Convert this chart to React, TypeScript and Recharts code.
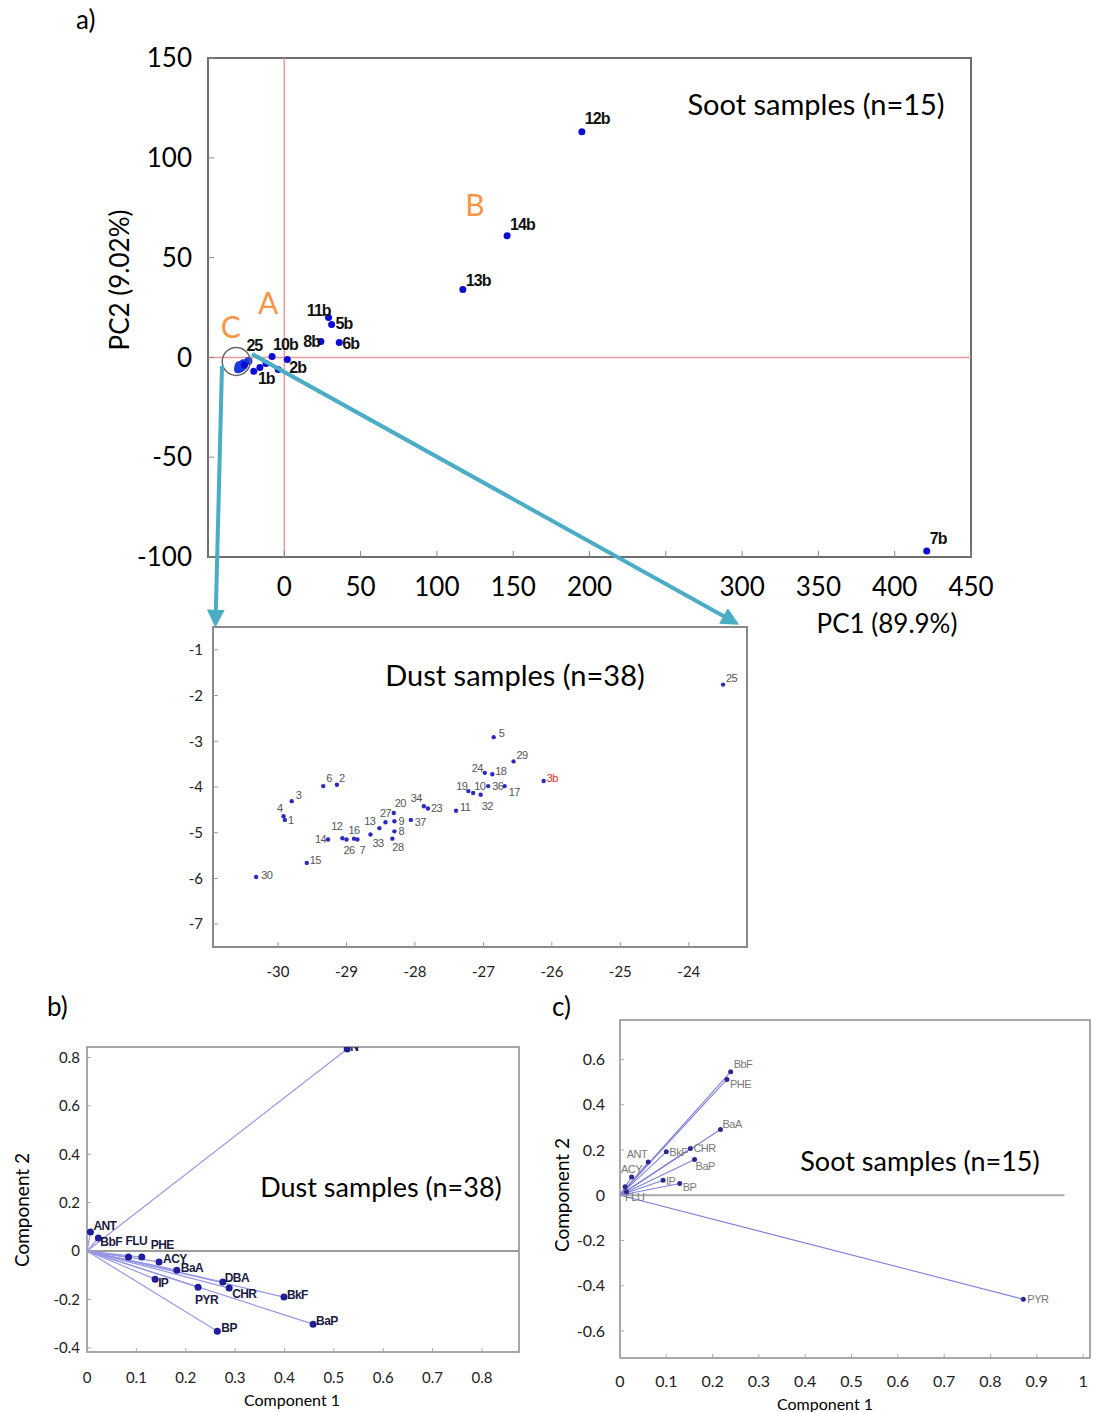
import React from 'react';
import { ScatterChart, Scatter, XAxis, YAxis, ReferenceLine, ReferenceArea, ReferenceDot } from 'recharts';

const FONT = 'Lato, "Open Sans", sans-serif';
const MARK_FONT = '"Liberation Sans", Arial, sans-serif';

// a) PCA scores, soot samples
const sootSamples = [
  { name: '12b', x: 195, y: 113 },
  { name: '14b', x: 146, y: 61 },
  { name: '13b', x: 117, y: 34 },
  { name: '7b', x: 421, y: -97 },
  { name: '11b', x: 29, y: 20 },
  { name: '5b', x: 31, y: 16.5 },
  { name: '8b', x: 24, y: 8 },
  { name: '6b', x: 36, y: 7.5 },
  { name: '10b', x: -8, y: 0.5 },
  { name: '2b', x: 2, y: -1 },
  { name: '1b', x: -16, y: -5 },
  { name: '3b', x: -26.12, y: -3.87 },
  { name: '4b', x: -12, y: -3 },
  { name: '9b', x: -4, y: -6 },
  { name: '15b', x: -20, y: -7 },
];

// dust samples (scores, zoomed window)
const dustSamples = [
  { name: '30', x: -30.32, y: -5.97 },
  { name: '15', x: -29.58, y: -5.66 },
  { name: '14', x: -29.27, y: -5.15 },
  { name: '12', x: -29.06, y: -5.12 },
  { name: '16', x: -28.89, y: -5.13 },
  { name: '26', x: -29.0, y: -5.15 },
  { name: '7', x: -28.84, y: -5.15 },
  { name: '33', x: -28.65, y: -5.04 },
  { name: '13', x: -28.52, y: -4.9 },
  { name: '27', x: -28.43, y: -4.77 },
  { name: '20', x: -28.31, y: -4.57 },
  { name: '9', x: -28.3, y: -4.75 },
  { name: '8', x: -28.3, y: -4.97 },
  { name: '28', x: -28.33, y: -5.13 },
  { name: '37', x: -28.06, y: -4.72 },
  { name: '34', x: -27.87, y: -4.42 },
  { name: '23', x: -27.81, y: -4.47 },
  { name: '11', x: -27.4, y: -4.52 },
  { name: '19', x: -27.22, y: -4.09 },
  { name: '10', x: -27.15, y: -4.13 },
  { name: '32', x: -27.04, y: -4.17 },
  { name: '36', x: -26.93, y: -3.98 },
  { name: '17', x: -26.69, y: -3.98 },
  { name: '24', x: -26.98, y: -3.69 },
  { name: '18', x: -26.87, y: -3.72 },
  { name: '29', x: -26.56, y: -3.44 },
  { name: '5', x: -26.85, y: -2.91 },
  { name: '25', x: -23.5, y: -1.76 },
  { name: '6', x: -29.34, y: -3.98 },
  { name: '2', x: -29.14, y: -3.95 },
  { name: '3', x: -29.8, y: -4.31 },
  { name: '4', x: -29.92, y: -4.64 },
  { name: '1', x: -29.9, y: -4.72 },
];

// b) loadings, dust
const dustLoadings = [
  { name: 'N', x: 0.527, y: 0.835 },
  { name: 'ANT', x: 0.007, y: 0.079 },
  { name: 'BbF', x: 0.023, y: 0.054 },
  { name: 'FLU', x: 0.084, y: -0.025 },
  { name: 'PHE', x: 0.111, y: -0.025 },
  { name: 'ACY', x: 0.146, y: -0.045 },
  { name: 'BaA', x: 0.182, y: -0.079 },
  { name: 'IP', x: 0.138, y: -0.116 },
  { name: 'PYR', x: 0.225, y: -0.149 },
  { name: 'DBA', x: 0.275, y: -0.128 },
  { name: 'CHR', x: 0.288, y: -0.153 },
  { name: 'BkF', x: 0.399, y: -0.19 },
  { name: 'BaP', x: 0.458, y: -0.302 },
  { name: 'BP', x: 0.264, y: -0.331 },
];

// c) loadings, soot
const sootLoadings = [
  { name: 'PYR', x: 0.871, y: -0.46 },
  { name: 'BbF', x: 0.239, y: 0.546 },
  { name: 'PHE', x: 0.231, y: 0.512 },
  { name: 'BaA', x: 0.217, y: 0.291 },
  { name: 'CHR', x: 0.152, y: 0.207 },
  { name: 'BkF', x: 0.1, y: 0.192 },
  { name: 'BaP', x: 0.161, y: 0.158 },
  { name: 'ANT', x: 0.061, y: 0.147 },
  { name: 'IP', x: 0.093, y: 0.066 },
  { name: 'BP', x: 0.129, y: 0.052 },
  { name: 'ACY', x: 0.025, y: 0.081 },
  { name: 'FLU', x: 0.011, y: 0.037 },
  { name: 'DBA', x: 0.014, y: 0.015 },
];

const pc1Ticks = [0, 50, 100, 150, 200, 250, 300, 350, 400, 450];
const pc2Ticks = [-100, -50, 0, 50, 100, 150];
const dustXTicks = [-30, -29, -28, -27, -26, -25, -24];
const dustYTicks = [-7, -6, -5, -4, -3, -2, -1];
const bXTicks = [0, 0.1, 0.2, 0.3, 0.4, 0.5, 0.6, 0.7, 0.8];
const bYTicks = [-0.4, -0.2, 0, 0.2, 0.4, 0.6, 0.8];
const cXTicks = [0, 0.1, 0.2, 0.3, 0.4, 0.5, 0.6, 0.7, 0.8, 0.9, 1];
const cYTicks = [-0.6, -0.4, -0.2, 0, 0.2, 0.4, 0.6];

const groupMarks = [
  { name: 'A', x: -10.5, y: 27.6 },
  { name: 'B', x: 125, y: 77 },
  { name: 'C', x: -35, y: 15.6 },
];
const clusterCircle = { x: -31.5, y: -2 };

const A_X = [-50, 450];
const A_Y = [-100, 150];
const DUST_X = [-30.95, -23.15];
const DUST_Y = [-7.5, -0.5];
const B_X = [0, 0.875];
const B_Y = [-0.417, 0.843];
const C_X = [0, 1.015];
const C_Y = [-0.72, 0.775];

// label offsets [dx, dy, anchor]
type Pos = [number, number, string];
const sootLabelPos: Record<string, Pos> = {
  '12b': [3, -8, 'start'], '14b': [3, -6, 'start'], '13b': [3, -4, 'start'], '7b': [3, -7, 'start'],
  '11b': [2, -1, 'end'], '5b': [4, 5, 'start'], '8b': [-1, 6, 'end'], '6b': [3, 7, 'start'],
  '10b': [1, -6, 'start'], '2b': [2, 14, 'start'], '1b': [-2, 17, 'start'],
};
const dustLabelPos: Record<string, Pos> = {
  '30': [5, 2, 'start'], '15': [3, 1, 'start'], '14': [-2, 3, 'end'], '12': [0, -8, 'end'],
  '16': [0, -5, 'middle'], '26': [-3, 14, 'start'], '7': [2, 14, 'start'], '33': [2, 12, 'start'],
  '13': [-4, -3, 'end'], '27': [0, -5, 'middle'], '20': [1, -6, 'start'], '9': [4, 4, 'start'],
  '8': [4, 4, 'start'], '28': [0, 12, 'start'], '37': [4, 6, 'start'], '34': [-2, -4, 'end'],
  '23': [3, 4, 'start'], '11': [4, 0, 'start'], '19': [-1, -1, 'end'], '10': [1, -3, 'start'],
  '32': [1, 15, 'start'], '36': [4, 4, 'start'], '17': [4, 10, 'start'], '24': [-2, -1, 'end'],
  '18': [3, 1, 'start'], '29': [3, -2, 'start'], '5': [5, 0, 'start'], '3b': [3, 1, 'start'],
  '25': [3, -3, 'start'], '6': [3, -4, 'start'], '2': [2, -3, 'start'], '3': [4, -2, 'start'],
  '4': [-1, -4, 'end'], '1': [3, 4, 'start'],
};
const bLabelPos: Record<string, Pos> = {
  N: [3, 2, 'start'], ANT: [3, -2, 'start'], BbF: [2, 8, 'start'], FLU: [-3, -12, 'start'],
  PHE: [9, -8, 'start'], ACY: [4, 1, 'start'], BaA: [4, 2, 'start'], IP: [3, 8, 'start'],
  PYR: [-3, 17, 'start'], DBA: [2, 0, 'start'], CHR: [3, 10, 'start'], BkF: [3, 2, 'start'],
  BaP: [3, 1, 'start'], BP: [4, 1, 'start'],
};
const cLabelPos: Record<string, Pos> = {
  PYR: [4, 4, 'start'], BbF: [3, -4, 'start'], PHE: [3, 9, 'start'], BaA: [2, -1, 'start'],
  CHR: [3, 4, 'start'], BkF: [3, 4, 'start'], BaP: [1, 11, 'start'], ANT: [-1, -4, 'end'],
  IP: [3, 5, 'start'], BP: [3, 8, 'start'], ACY: [0, -4, 'middle'], FLU: [0, 14, 'start'],
};

const labelled = (posMap: Record<string, Pos>, r: number, fill: string, text: any, textFill?: (n: string) => string) => (p: any) => {
  const pos = posMap[p.payload.name];
  return (
    <g>
      <circle cx={p.cx} cy={p.cy} r={r} fill={fill} />
      {pos && (
        <text x={p.cx + pos[0]} y={p.cy + pos[1]} textAnchor={pos[2]} fill={textFill ? textFill(p.payload.name) : text.fill}
          fontSize={text.fontSize} fontWeight={text.fontWeight} fontFamily={MARK_FONT} letterSpacing={text.letterSpacing}>
          {p.payload.name}
        </text>
      )}
    </g>
  );
};

function PanelA() {
  const tick = { fontSize: 26, fill: '#000', fontFamily: FONT };
  const only25: Record<string, Pos> = { '25': [-2, -10, 'start'] };
  return (
    <ScatterChart width={1095} height={640} margin={{ top: 58, left: 128, right: 124, bottom: 43 }}>
      <XAxis type="number" dataKey="x" domain={A_X} ticks={pc1Ticks} allowDataOverflow interval={0}
        height={40} tickSize={-6} tickMargin={27} axisLine={false} tickLine={{ stroke: '#888' }}
        tick={tick} tickFormatter={(v: number) => (v === 250 ? '' : String(v))} />
      <YAxis type="number" dataKey="y" domain={A_Y} ticks={pc2Ticks} allowDataOverflow interval={0}
        width={80} tickSize={-6} tickMargin={22} axisLine={false} tickLine={{ stroke: '#888' }} tick={tick} />
      <ReferenceArea x1={A_X[0]} x2={A_X[1]} y1={A_Y[0]} y2={A_Y[1]} fill="none" stroke="#6e6e6e" strokeWidth={2} />
      <ReferenceLine x={0} stroke="#e89a9a" strokeWidth={1.5} />
      <ReferenceLine y={0} stroke="#e89a9a" strokeWidth={1.5} />
      <Scatter data={dustSamples} isAnimationActive={false}
        shape={labelled(only25, 4, '#1a3ae0', { fontSize: 16, fontWeight: 700, fill: '#111', letterSpacing: -1 })} />
      <Scatter data={sootSamples} isAnimationActive={false}
        shape={labelled(sootLabelPos, 3.5, '#0b0bd6', { fontSize: 16, fontWeight: 700, fill: '#111', letterSpacing: -1 })} />
      <ReferenceDot x={clusterCircle.x} y={clusterCircle.y} r={14} fill="none" stroke="#666" strokeWidth={1.5} />
      {groupMarks.map((g) => (
        <ReferenceDot key={g.name} x={g.x} y={g.y} r={0}
          shape={(p: any) => (
            <text x={p.cx} y={p.cy} textAnchor="middle" dominantBaseline="central" fontSize={30} fill="#f79646" fontFamily={FONT}>
              {g.name}
            </text>
          )} />
      ))}
    </ScatterChart>
  );
}

function PanelDust() {
  const tick = { fontSize: 15, fill: '#222', fontFamily: FONT };
  const inWindow = sootSamples.filter((s) => s.x >= DUST_X[0] && s.x <= DUST_X[1] && s.y >= DUST_Y[0] && s.y <= DUST_Y[1]);
  const text = { fontSize: 11, fontWeight: 400, fill: '#555', letterSpacing: -0.6 };
  return (
    <ScatterChart width={640} height={400} margin={{ top: 37, left: 23, right: 33, bottom: 13 }}>
      <XAxis type="number" dataKey="x" domain={DUST_X} ticks={dustXTicks} allowDataOverflow interval={0}
        height={30} tickSize={-5} tickMargin={24} axisLine={false} tickLine={{ stroke: '#999' }} tick={tick} />
      <YAxis type="number" dataKey="y" domain={DUST_Y} ticks={dustYTicks} allowDataOverflow interval={0}
        width={50} tickSize={-5} tickMargin={15} axisLine={false} tickLine={{ stroke: '#999' }} tick={tick} />
      <ReferenceArea x1={DUST_X[0]} x2={DUST_X[1]} y1={DUST_Y[0]} y2={DUST_Y[1]} fill="none" stroke="#8a8a8a" strokeWidth={2} />
      <Scatter data={dustSamples} isAnimationActive={false} shape={labelled(dustLabelPos, 2.2, '#2b2bc0', text)} />
      <Scatter data={inWindow} isAnimationActive={false} shape={labelled(dustLabelPos, 2.2, '#2b2bc0', text, () => '#e03030')} />
    </ScatterChart>
  );
}

function PanelB() {
  const tick = { fontSize: 15, fill: '#222', fontFamily: FONT };
  return (
    <ScatterChart width={560} height={392} margin={{ top: 27, left: 37, right: 41, bottom: 30 }}>
      <XAxis type="number" dataKey="x" domain={B_X} ticks={bXTicks} allowDataOverflow interval={0}
        height={30} tickSize={-4} tickMargin={24} axisLine={false} tickLine={{ stroke: '#aaa' }} tick={tick} />
      <YAxis type="number" dataKey="y" domain={B_Y} ticks={bYTicks} allowDataOverflow interval={0}
        width={50} tickSize={-4} tickMargin={11} axisLine={false} tickLine={{ stroke: '#aaa' }} tick={tick} />
      <ReferenceArea x1={B_X[0]} x2={B_X[1]} y1={B_Y[0]} y2={B_Y[1]} fill="none" stroke="#8c8c8c" strokeWidth={1.5} />
      <ReferenceLine y={0} stroke="#9c9c9c" strokeWidth={2} />
      {dustLoadings.map((d) => (
        <ReferenceLine key={d.name} segment={[{ x: 0, y: 0 }, { x: d.x, y: d.y }]} stroke="#9797e6" strokeWidth={1.2} ifOverflow="visible" />
      ))}
      <Scatter data={dustLoadings} isAnimationActive={false}
        shape={labelled(bLabelPos, 3.5, '#1f1f9c', { fontSize: 12, fontWeight: 700, fill: '#1b1b40', letterSpacing: -0.6 })} />
    </ScatterChart>
  );
}

function PanelC() {
  const tick = { fontSize: 16, fill: '#222', fontFamily: FONT };
  return (
    <ScatterChart width={535} height={412} margin={{ top: 20, left: 20, right: 5, bottom: 24 }}>
      <XAxis type="number" dataKey="x" domain={C_X} ticks={cXTicks} allowDataOverflow interval={0}
        height={30} tickSize={-4} tickMargin={22} axisLine={false} tickLine={{ stroke: '#aaa' }} tick={tick} />
      <YAxis type="number" dataKey="y" domain={C_Y} ticks={cYTicks} allowDataOverflow interval={0}
        width={40} tickSize={-4} tickMargin={19} axisLine={false} tickLine={{ stroke: '#aaa' }} tick={tick} />
      <ReferenceArea x1={C_X[0]} x2={C_X[1]} y1={C_Y[0]} y2={C_Y[1]} fill="none" stroke="#8c8c8c" strokeWidth={1.5} />
      <ReferenceLine segment={[{ x: 0, y: 0 }, { x: 0.96, y: 0 }]} stroke="#aaaaaa" strokeWidth={2} />
      {sootLoadings.map((d) => (
        <ReferenceLine key={d.name} segment={[{ x: 0, y: 0 }, { x: d.x, y: d.y }]} stroke="#8080dc" strokeWidth={1.1} ifOverflow="visible" />
      ))}
      <Scatter data={sootLoadings} isAnimationActive={false}
        shape={labelled(cLabelPos, 2.5, '#2a2a8a', { fontSize: 11, fontWeight: 400, fill: '#777', letterSpacing: -0.5 })} />
    </ScatterChart>
  );
}

function Overlay() {
  const teal = '#4bacc6';
  return (
    <svg width={1095} height={1412} style={{ position: 'absolute', left: 0, top: 0, pointerEvents: 'none' }}>
      <defs>
        <marker id="arrow" viewBox="0 0 10 10" refX="8" refY="5" markerWidth="4.5" markerHeight="4.5" orient="auto">
          <path d="M0,0 L10,5 L0,10 z" fill={teal} />
        </marker>
      </defs>
      <line x1={222} y1={366} x2={215.5} y2={624} stroke={teal} strokeWidth={4} markerEnd="url(#arrow)" />
      <line x1={252} y1={354} x2={736} y2={623} stroke={teal} strokeWidth={4} markerEnd="url(#arrow)" />
      <g fontFamily={FONT} fill="#000">
        <text x={76} y={29} fontSize={26}>a)</text>
        <text x={47} y={1016} fontSize={26}>b)</text>
        <text x={552} y={1016} fontSize={26}>c)</text>
        <text x={816} y={115} fontSize={29} textAnchor="middle">Soot samples (n=15)</text>
        <text x={515} y={686} fontSize={29} textAnchor="middle">Dust samples (n=38)</text>
        <text x={381} y={1197} fontSize={27} textAnchor="middle">Dust samples (n=38)</text>
        <text x={920} y={1171} fontSize={27} textAnchor="middle">Soot samples (n=15)</text>
        <text x={887} y={633} fontSize={26} textAnchor="middle">PC1 (89.9%)</text>
        <text transform="translate(129,280) rotate(-90)" fontSize={26} textAnchor="middle">PC2 (9.02%)</text>
        <text x={292} y={1406} fontSize={16} textAnchor="middle">Component 1</text>
        <text transform="translate(29,1210) rotate(-90)" fontSize={19} textAnchor="middle">Component 2</text>
        <text x={825} y={1410} fontSize={16} textAnchor="middle">Component 1</text>
        <text transform="translate(569,1195) rotate(-90)" fontSize={19} textAnchor="middle">Component 2</text>
      </g>
    </svg>
  );
}

export default function App() {
  return (
    <div style={{ position: 'absolute', left: 0, top: 0, width: 1095, height: 1412, background: '#fff', overflow: 'hidden' }}>
      <div style={{ position: 'absolute', left: 0, top: 0 }}><PanelA /></div>
      <div style={{ position: 'absolute', left: 140, top: 590 }}><PanelDust /></div>
      <div style={{ position: 'absolute', left: 0, top: 1020 }}><PanelB /></div>
      <div style={{ position: 'absolute', left: 560, top: 1000 }}><PanelC /></div>
      <Overlay />
    </div>
  );
}
